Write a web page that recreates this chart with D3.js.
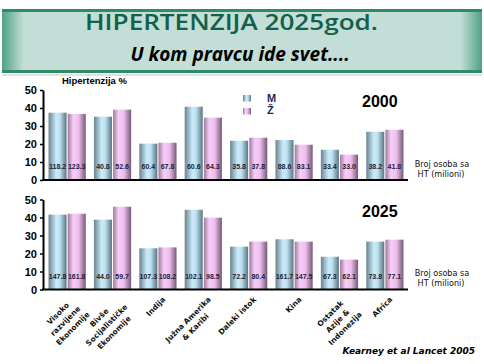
<!DOCTYPE html>
<html>
<head>
<meta charset="utf-8">
<script src="https://cdn.jsdelivr.net/npm/d3@7"></script>
<style>
  body { margin: 0; background: #fff; }
  svg { display: block; }
</style>
</head>
<body>
<div class="chart"></div>
<script>
// regions (x axis), two lines of text each where needed
const categories = ['Visoko razvijene Ekonomije', 'Bivše Socijalističke Ekonomije', 'Indija',
    'Južna Amerika & Karibi', 'Daleki istok', 'Kina', 'Ostatak Azije & Indonezija', 'Africa'];
const categoryLines = [
    ['Visoko', 'razvijene', 'Ekonomije'],
    ['Bivše', 'Socijalističke', 'Ekonomije'],
    ['Indija'],
    ['Južna Amerika', '& Karibi'],
    ['Daleki istok'],
    ['Kina'],
    ['Ostatak', 'Azije &', 'Indonezija'],
    ['Africa']
];
const sexes = ['M', 'Ž'];

// prevalence %, year 2000
const men2000 = [37.4, 35.2, 20.2, 40.7, 21.8, 22.2, 16.8, 26.8];
const women2000 = [36.7, 39.1, 20.7, 34.6, 23.5, 19.6, 14.1, 27.9];
// number of people with HT (millions), year 2000
const menCount2000 = ['118.2', '40.8', '60.4', '60.6', '35.8', '88.6', '33.4', '38.2'];
const womenCount2000 = ['123.3', '52.6', '67.8', '64.3', '37.8', '83.1', '33.0', '41.8'];

// prevalence %, year 2025
const men2025 = [41.6, 38.8, 22.9, 44.3, 23.8, 27.9, 18.2, 26.6];
const women2025 = [42.1, 46.0, 23.4, 39.9, 26.6, 26.6, 16.6, 27.7];
const menCount2025 = ['147.8', '44.0', '107.3', '102.1', '72.2', '161.7', '67.3', '73.8'];
const womenCount2025 = ['161.8', '59.7', '108.2', '98.5', '80.4', '147.5', '62.1', '77.1'];

const yTicks = [0, 10, 20, 30, 40, 50];

const width = 484, height = 364;
const svg = d3.select('.chart').append('svg')
    .attr('width', width)
    .attr('height', height);

const defs = svg.append('defs');
const grad = (id, stops) => {
    const g = defs.append('linearGradient').attr('id', id)
        .attr('x1', 0).attr('x2', 1).attr('y1', 0).attr('y2', 0);
    stops.forEach(([o, c]) => g.append('stop').attr('offset', o).attr('stop-color', c));
};
grad('gM', [[0, '#6a838f'], [0.42, '#c8ebfa'], [0.62, '#bfe3f3'], [1, '#5b7480']]);
grad('gZ', [[0, '#9c7b9c'], [0.3, '#f8ccf8'], [0.6, '#eebfee'], [1, '#765876']]);
grad('gBanner', [[0, '#4fa184'], [0.045, '#c2ded6'], [0.955, '#c2ded6'], [1, '#4fa184']]);

// header banner
const banner = svg.append('g');
banner.append('rect').attr('x', 2).attr('y', 10).attr('width', 480).attr('height', 62)
    .attr('fill', 'url(#gBanner)');
banner.append('rect').attr('x', 2).attr('y', 9).attr('width', 480).attr('height', 3).attr('fill', '#2f8a66');
banner.append('rect').attr('x', 2).attr('y', 70).attr('width', 480).attr('height', 3).attr('fill', '#2f8a66');
banner.append('rect').attr('x', 2).attr('y', 74).attr('width', 480).attr('height', 2).attr('fill', '#e2e2e2');
banner.append('text').attr('x', 85).attr('y', 30)
    .attr('textLength', 293)
    .attr('lengthAdjust', 'spacingAndGlyphs')
    .style('font', '600 22px "Open Sans", sans-serif')
    .attr('fill', '#13604b')
    .text('HIPERTENZIJA 2025god.');
banner.append('text').attr('x', 240).attr('y', 61)
    .attr('text-anchor', 'middle')
    .style('font', 'italic bold 19px "Open Sans", sans-serif')
    .attr('fill', '#000')
    .text('U kom pravcu ide svet....');

svg.append('text').attr('x', 62).attr('y', 84)
    .style('font', 'bold 9.5px "Liberation Sans", Arial, sans-serif')
    .text('Hipertenzija %');

const x = d3.scaleBand().domain(categories).range([44, 408]).paddingInner(0.18).paddingOuter(0.1);
const xs = d3.scaleBand().domain(sexes).range([0, x.bandwidth()]).paddingInner(0.06);

const panels = [
    {year: '2000', men: men2000, women: women2000, menN: menCount2000, womenN: womenCount2000, y0: 180},
    {year: '2025', men: men2025, women: women2025, menN: menCount2025, womenN: womenCount2025, y0: 289.5}
];

panels.forEach(p => {
    const y = d3.scaleLinear().domain([0, 50]).range([p.y0, p.y0 - 90]);
    const rows = categories.map((c, i) => ({
        cat: c,
        bars: [
            {sex: 'M', v: p.men[i], n: p.menN[i]},
            {sex: 'Ž', v: p.women[i], n: p.womenN[i]}
        ]
    }));

    const g = svg.append('g');
    const groups = g.selectAll('g.grp').data(rows).join('g')
        .attr('class', 'grp')
        .attr('transform', d => `translate(${x(d.cat)},0)`);

    groups.selectAll('rect').data(d => d.bars).join('rect')
        .attr('x', d => xs(d.sex))
        .attr('width', xs.bandwidth())
        .attr('y', d => y(d.v))
        .attr('height', d => y(0) - y(d.v))
        .attr('fill', d => d.sex === 'M' ? 'url(#gM)' : 'url(#gZ)');

    groups.selectAll('text').data(d => d.bars).join('text')
        .attr('x', d => xs(d.sex) + xs.bandwidth() / 2)
        .attr('y', y(0) - 11)
        .attr('text-anchor', 'middle')
        .style('font', 'bold 7px "Liberation Sans", Arial, sans-serif')
        .attr('fill', '#1c1c3a')
        .text(d => d.n);

    // y axis
    g.append('g').attr('transform', 'translate(43,0)')
        .call(d3.axisLeft(y).tickValues(yTicks).tickSize(3).tickSizeOuter(0).tickPadding(3))
        .call(a => a.select('.domain').attr('stroke-width', 2).attr('stroke', '#000'))
        .call(a => a.selectAll('.tick line').attr('stroke-width', 1.5).attr('stroke', '#000'))
        .call(a => a.selectAll('.tick text').attr('fill', '#000')
            .style('font', 'bold 11px "Liberation Sans", Arial, sans-serif'));

    // baseline
    g.append('line')
        .attr('x1', 42).attr('x2', 408)
        .attr('y1', y(0)).attr('y2', y(0))
        .attr('stroke', '#000').attr('stroke-width', 2);

    g.append('text').attr('x', 362).attr('y', p.y0 - 73)
        .style('font', 'bold 16px "Liberation Sans", Arial, sans-serif')
        .text(p.year);

    const note = g.append('text')
        .attr('text-anchor', 'middle')
        .style('font', '9px "DejaVu Sans Condensed", "DejaVu Sans", sans-serif')
        .attr('fill', '#111');
    note.append('tspan').attr('x', 442).attr('y', p.y0 - 13.5).text('Broj  osoba sa');
    note.append('tspan').attr('x', 441).attr('y', p.y0 - 3.5).text('HT (milioni)');
});

// legend
const legend = svg.append('g');
sexes.forEach((s, i) => {
    legend.append('rect').attr('x', 243).attr('y', 95 + i * 13)
        .attr('width', 8).attr('height', 6.5)
        .attr('fill', s === 'M' ? 'url(#gM)' : 'url(#gZ)');
    legend.append('text').attr('x', 267).attr('y', 101.5 + i * 12)
        .style('font', 'bold 11px "Liberation Sans", Arial, sans-serif')
        .attr('fill', '#1b2a5c')
        .text(s);
});

// rotated category labels
const lh = 10.5;
const labels = svg.append('g')
    .style('font', 'bold 7.5px "DejaVu Sans", sans-serif')
    .attr('fill', '#111');
categories.forEach((c, i) => {
    const cx = x(c) + x.bandwidth() / 2;
    const blk = labels.append('g')
        .attr('transform', `translate(${cx + 8},${300}) rotate(-45)`);
    const lines = categoryLines[i];
    const texts = lines.map((l, j) => blk.append('text')
        .attr('y', j * lh)
        .attr('text-anchor', 'middle')
        .text(l));
    const w = d3.max(texts, t => t.node().getComputedTextLength());
    texts.forEach(t => t.attr('x', -w / 2));
});

svg.append('text').attr('x', 475).attr('y', 354)
    .attr('text-anchor', 'end')
    .style('font', 'italic bold 9px "DejaVu Sans", sans-serif')
    .text('Kearney  et al Lancet  2005');
</script>
</body>
</html>
